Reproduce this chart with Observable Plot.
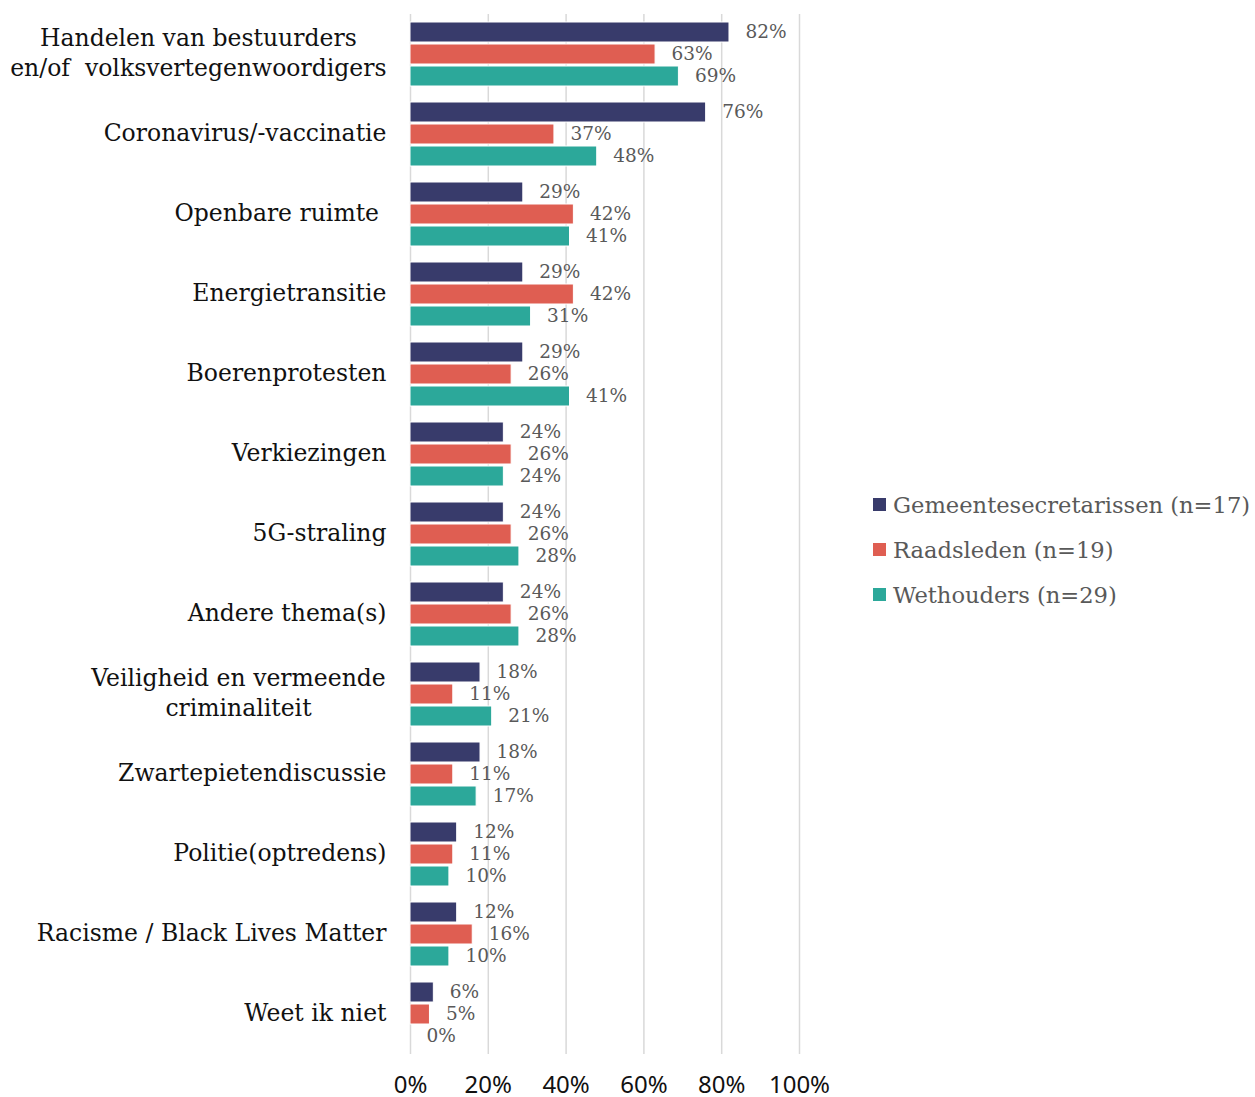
<!DOCTYPE html>
<html><head><meta charset="utf-8">
<script src="https://cdn.jsdelivr.net/npm/d3@7"></script>
<script src="https://cdn.jsdelivr.net/npm/@observablehq/plot@0.6"></script>
<style>
body{margin:0;background:#fff;}
#wrap{position:relative;width:1255px;height:1097px;}
#legend{position:absolute;left:873px;top:482px;font-family:"DejaVu Serif";font-size:22.6px;color:#595959;}
.item{display:flex;align-items:center;height:45px;white-space:nowrap;}
.sw{width:13px;height:13px;margin-right:7px;flex:none;}
</style></head><body>
<div id="wrap"><div id="legend"></div></div>
<script>
const categories = [
  "Handelen van bestuurders\nen/of  volksvertegenwoordigers",
  "Coronavirus/-vaccinatie",
  "Openbare ruimte\u00a0",
  "Energietransitie",
  "Boerenprotesten",
  "Verkiezingen",
  "5G-straling",
  "Andere thema(s)",
  "Veiligheid en vermeende\ncriminaliteit",
  "Zwartepietendiscussie",
  "Politie(optredens)",
  "Racisme / Black Lives Matter",
  "Weet ik niet"
];
const series = ["Gemeentesecretarissen (n=17)", "Raadsleden (n=19)", "Wethouders (n=29)"];
const gemeentesecretarissen = [82, 76, 29, 29, 29, 24, 24, 24, 18, 18, 12, 12, 6];
const raadsleden = [63, 37, 42, 42, 26, 26, 26, 26, 11, 11, 11, 16, 5];
const wethouders = [69, 48, 41, 31, 41, 24, 28, 28, 21, 17, 10, 10, 0];
const xTicks = [0, 20, 40, 60, 80, 100];
const colors = ["#383b6b", "#df5e52", "#2ca89a"];

const valuesBySeries = [gemeentesecretarissen, raadsleden, wethouders];
const rows = categories.flatMap((c, i) => valuesBySeries.map((vals, k) => ({category: c, series: series[k], value: vals[i], k})));

const marks = [Plot.gridX(xTicks, {stroke: "#d9d9d9", strokeOpacity: 1, strokeWidth: 1.5})];
for (let k = 0; k < 3; k++) {
  const data = rows.filter(d => d.k === k);
  marks.push(Plot.barX(data, {x: "value", y: "category", fill: colors[k], stroke: "white", strokeWidth: 1, insetTop: 8 + 22 * k, insetBottom: 52 - 22 * k}));
  marks.push(Plot.text(data, {x: "value", y: "category", text: d => d.value + "%", dy: -22 + 22 * k, dx: 16, textAnchor: "start", fill: "#595959", fontSize: 18.5, fontFamily: "DejaVu Serif"}));
}
marks.push(Plot.axisY({tickSize: 0, tickPadding: 24, dy: -3, fontSize: 23.5, fontFamily: "DejaVu Serif", fill: "#111", lineHeight: 1.25}));
marks.push(Plot.axisX({ticks: xTicks, tickFormat: d => d + "%", tickSize: 0, tickPadding: 21, fontSize: 24, fontFamily: "Noto Sans", fill: "#111"}));

const chart = Plot.plot({
  width: 1255, height: 1097,
  marginLeft: 410, marginRight: 456, marginTop: 14, marginBottom: 43,
  x: {domain: [0, 100], label: null},
  y: {domain: categories, padding: 0, label: null},
  style: {background: "white", overflow: "visible"},
  marks
});
const wrap = document.getElementById("wrap");
wrap.insertBefore(chart, wrap.firstChild);

// center multi-line category labels relative to each other
chart.querySelectorAll('g[aria-label="y-axis tick label"] text').forEach(t => {
  const spans = t.querySelectorAll("tspan");
  if (spans.length > 1) {
    const w = t.getBBox().width;
    t.setAttribute("text-anchor", "middle");
    spans.forEach(s => s.setAttribute("x", -w / 2));
  }
});

const legend = document.getElementById("legend");
series.forEach((s, k) => {
  const it = document.createElement("div");
  it.className = "item";
  it.innerHTML = `<span class="sw" style="background:${colors[k]}"></span><span>${s}</span>`;
  legend.appendChild(it);
});
</script>
</body></html>
